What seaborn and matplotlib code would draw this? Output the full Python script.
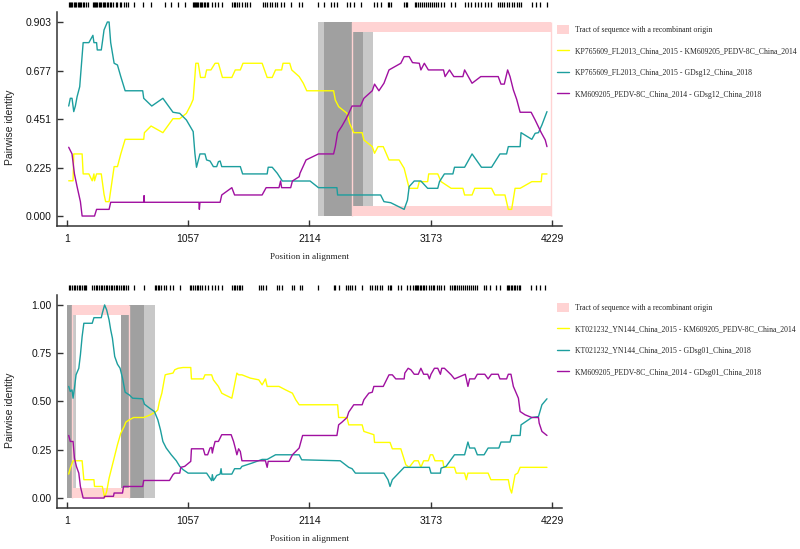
import seaborn as sns
import pandas as pd
import matplotlib.pyplot as plt
from matplotlib.patches import Rectangle, Patch
from matplotlib.lines import Line2D

# ---------------- top panel data ----------------
top_yellow_pos = [16, 54, 60, 133, 142, 192, 221, 236, 241, 259, 300, 324, 338, 368, 412, 441, 470, 508,
                  670, 676, 734, 837, 925, 984, 1042, 1080, 1101, 1116, 1124, 1145, 1165, 1204, 1218, 1256,
                  1292, 1321, 1356, 1438, 1468, 1512, 1535, 1702, 1746, 1790, 1819, 1872, 1884, 1943, 1960,
                  2025, 2061, 2091, 2325, 2340, 2369, 2442, 2465, 2501, 2574, 2589, 2662, 2682, 2712, 2758,
                  2808, 2896, 2940, 2984, 3057, 3072, 3145, 3154, 3233, 3262, 3350, 3452, 3467, 3532, 3555,
                  3702, 3731, 3819, 3848, 3877, 3907, 3951, 4053, 4135, 4141, 4185]
top_yellow_val = [0.164, 0.164, 0.289, 0.289, 0.196, 0.196, 0.164, 0.196, 0.164, 0.196, 0.196, 0.101, 0.067,
                  0.067, 0.230, 0.230, 0.289, 0.357, 0.357, 0.388, 0.419, 0.388, 0.453, 0.453, 0.478, 0.517,
                  0.543, 0.649, 0.711, 0.711, 0.645, 0.645, 0.680, 0.680, 0.711, 0.711, 0.645, 0.645, 0.680,
                  0.680, 0.711, 0.711, 0.645, 0.645, 0.680, 0.680, 0.711, 0.711, 0.680, 0.649, 0.618, 0.583,
                  0.583, 0.540, 0.509, 0.478, 0.431, 0.388, 0.388, 0.354, 0.323, 0.292, 0.323, 0.323, 0.261,
                  0.261, 0.222, 0.129, 0.129, 0.160, 0.160, 0.196, 0.196, 0.160, 0.129, 0.129, 0.098, 0.098,
                  0.129, 0.129, 0.098, 0.098, 0.031, 0.031, 0.129, 0.129, 0.160, 0.160, 0.196, 0.196]

top_teal_pos = [16, 30, 45, 60, 74, 89, 112, 142, 192, 227, 236, 259, 265, 300, 309, 324, 353, 368, 382, 412,
                441, 470, 508, 661, 670, 740, 837, 925, 984, 1042, 1101, 1116, 1130, 1160, 1204, 1218, 1248,
                1277, 1306, 1321, 1336, 1350, 1512, 1532, 1746, 1755, 1790, 1834, 1878, 2032, 2120, 2193,
                2354, 2360, 2735, 2764, 2823, 2940, 2969, 2984, 3028, 3086, 3145, 3233, 3248, 3291, 3365,
                3379, 3467, 3532, 3614, 3702, 3775, 3833, 3848, 3951, 3959, 4053, 4082, 4111, 4141, 4185]
top_teal_val = [0.512, 0.548, 0.548, 0.486, 0.512, 0.555, 0.602, 0.807, 0.807, 0.841, 0.807, 0.807, 0.773,
                0.773, 0.807, 0.866, 0.903, 0.903, 0.807, 0.711, 0.703, 0.649, 0.583, 0.583, 0.548, 0.512,
                0.548, 0.483, 0.478, 0.447, 0.393, 0.292, 0.227, 0.289, 0.289, 0.261, 0.256, 0.230, 0.230,
                0.253, 0.256, 0.230, 0.230, 0.196, 0.196, 0.227, 0.227, 0.199, 0.163, 0.163, 0.163, 0.132,
                0.132, 0.098, 0.098, 0.067, 0.062, 0.031, 0.074, 0.137, 0.163, 0.163, 0.129, 0.129, 0.160,
                0.196, 0.196, 0.227, 0.227, 0.289, 0.227, 0.227, 0.289, 0.289, 0.323, 0.323, 0.388, 0.357,
                0.385, 0.388, 0.424, 0.486]

top_purple_pos = [16, 45, 66, 89, 118, 133, 241, 259, 368, 382, 670, 673, 676, 1151, 1155, 1160, 1336, 1350,
                  1438, 1462, 1702, 1737, 1849, 1863, 1872, 1951, 1966, 2025, 2032, 2085, 2193, 2325, 2340,
                  2360, 2398, 2436, 2457, 2486, 2559, 2589, 2662, 2682, 2720, 2764, 2808, 2911, 2940, 2984,
                  3013, 3072, 3086, 3116, 3151, 3283, 3297, 3335, 3373, 3452, 3467, 3532, 3608, 3760, 3784,
                  3813, 3842, 3863, 3892, 3921, 3951, 4047, 4082, 4135, 4170, 4185]
top_purple_val = [0.320, 0.289, 0.196, 0.137, 0.067, 0.000, 0.000, 0.031, 0.031, 0.064, 0.064, 0.095, 0.064,
                  0.064, 0.031, 0.064, 0.064, 0.098, 0.132, 0.098, 0.098, 0.132, 0.132, 0.163, 0.132, 0.132,
                  0.163, 0.183, 0.199, 0.261, 0.289, 0.289, 0.323, 0.388, 0.419, 0.455, 0.478, 0.512, 0.512,
                  0.548, 0.583, 0.614, 0.583, 0.618, 0.680, 0.711, 0.742, 0.742, 0.714, 0.711, 0.680, 0.711,
                  0.680, 0.680, 0.649, 0.680, 0.649, 0.649, 0.680, 0.618, 0.649, 0.649, 0.614, 0.614, 0.680,
                  0.649, 0.587, 0.543, 0.483, 0.483, 0.447, 0.388, 0.354, 0.323]

top_rug = [16, 24, 36, 45, 60, 74, 83, 95, 104, 118, 127, 142, 153, 171, 183, 230, 236, 244, 253, 265, 277,
           288, 300, 312, 324, 335, 347, 359, 376, 388, 406, 426, 441, 459, 476, 494, 514, 529, 582, 661, 734,
           852, 910, 969, 1033, 1101, 1107, 1116, 1124, 1133, 1145, 1157, 1168, 1180, 1192, 1204, 1218, 1233,
           1262, 1292, 1321, 1350, 1438, 1453, 1468, 1482, 1497, 1526, 1550, 1570, 1599, 1708, 1725, 1746,
           1772, 1790, 1813, 1834, 1863, 1893, 1951, 2025, 2047, 2193, 2243, 2301, 2331, 2354, 2442, 2471,
           2501, 2568, 2676, 2706, 2735, 2799, 2811, 2823, 2940, 2958, 2969, 3034, 3045, 3057, 3075, 3092,
           3110, 3127, 3145, 3163, 3180, 3198, 3215, 3233, 3262, 3286, 3350, 3385, 3467, 3496, 3526, 3555,
           3584, 3614, 3643, 3672, 3696, 3760, 3772, 3789, 3813, 3833, 3854, 3877, 3901, 3921, 3942, 3959,
           4053, 4088, 4126, 4185]

top_ymax = 0.903
top_yticks = [0.0, 0.225, 0.451, 0.677, 0.903]
top_yticklabels = ["0.000", "0.225", "0.451", "0.677", "0.903"]
top_tract = (2486, 4223)
top_light = [(2193, 2670)]
top_dark = [(2243, 2580)]
top_labels = ["KP765609_FL2013_China_2015 - KM609205_PEDV-8C_China_2014",
              "KP765609_FL2013_China_2015 - GDsg12_China_2018",
              "KM609205_PEDV-8C_China_2014 - GDsg12_China_2018"]

# ---------------- bottom panel data ----------------
bot_yellow_pos = [16, 30, 54, 133, 148, 236, 241, 309, 329, 347, 368, 412, 441, 470, 500, 514, 544, 582, 670,
                  728, 778, 793, 807, 828, 846, 857, 875, 925, 940, 969, 1013, 1080, 1086, 1189, 1204, 1262,
                  1277, 1321, 1350, 1379, 1438, 1453, 1482, 1497, 1526, 1599, 1673, 1702, 1731, 1746, 1849,
                  1907, 1966, 1995, 2025, 2360, 2369, 2442, 2457, 2574, 2589, 2676, 2682, 2817, 2837, 2911,
                  2955, 2984, 3028, 3063, 3086, 3110, 3151, 3168, 3189, 3209, 3277, 3286, 3379, 3394, 3467,
                  3482, 3496, 3672, 3696, 3848, 3863, 3877, 3907, 3930, 3951, 4185]
bot_yellow_val = [0.124, 0.155, 0.193, 0.193, 0.095, 0.095, 0.060, 0.060, 0.003, 0.034, 0.103, 0.207, 0.276,
                  0.336, 0.371, 0.393, 0.405, 0.417, 0.417, 0.431, 0.448, 0.457, 0.500, 0.543, 0.603, 0.638,
                  0.641, 0.647, 0.664, 0.672, 0.676, 0.676, 0.617, 0.617, 0.638, 0.638, 0.612, 0.578, 0.543,
                  0.534, 0.517, 0.560, 0.647, 0.638, 0.638, 0.621, 0.612, 0.586, 0.617, 0.578, 0.578, 0.560,
                  0.543, 0.509, 0.483, 0.483, 0.417, 0.417, 0.379, 0.379, 0.345, 0.328, 0.288, 0.288, 0.255,
                  0.255, 0.172, 0.159, 0.193, 0.193, 0.159, 0.193, 0.193, 0.224, 0.224, 0.193, 0.193, 0.159,
                  0.159, 0.129, 0.129, 0.095, 0.129, 0.129, 0.095, 0.095, 0.048, 0.026, 0.121, 0.129, 0.159,
                  0.159]

bot_teal_pos = [16, 30, 45, 54, 66, 80, 104, 118, 133, 148, 221, 236, 300, 309, 329, 347, 368, 382, 397, 417,
                441, 464, 485, 508, 544, 573, 661, 676, 720, 763, 793, 816, 837, 866, 910, 954, 984, 1013,
                1057, 1218, 1248, 1262, 1268, 1277, 1292, 1306, 1336, 1344, 1350, 1438, 1462, 1512, 1526,
                1614, 1702, 1746, 1819, 2025, 2047, 2383, 2457, 2486, 2515, 2764, 2799, 2817, 2837, 2940,
                3160, 3174, 3256, 3262, 3306, 3379, 3467, 3496, 3511, 3555, 3578, 3637, 3672, 3766, 3784,
                3863, 3877, 3951, 3959, 4053, 4111, 4141, 4185]
bot_teal_val = [0.578, 0.552, 0.560, 0.517, 0.569, 0.638, 0.672, 0.741, 0.836, 0.905, 0.905, 0.934, 0.934,
                0.957, 1.000, 0.974, 0.922, 0.871, 0.828, 0.733, 0.693, 0.672, 0.621, 0.548, 0.534, 0.517,
                0.514, 0.486, 0.466, 0.448, 0.405, 0.353, 0.293, 0.259, 0.224, 0.193, 0.164, 0.147, 0.129,
                0.129, 0.103, 0.090, 0.121, 0.091, 0.103, 0.117, 0.124, 0.152, 0.124, 0.124, 0.152, 0.152,
                0.164, 0.181, 0.200, 0.200, 0.224, 0.224, 0.198, 0.193, 0.159, 0.152, 0.129, 0.129, 0.095,
                0.060, 0.095, 0.159, 0.159, 0.129, 0.129, 0.155, 0.164, 0.224, 0.224, 0.290, 0.259, 0.259,
                0.224, 0.224, 0.259, 0.259, 0.290, 0.290, 0.324, 0.324, 0.379, 0.417, 0.422, 0.483, 0.514]

bot_purple_pos = [16, 30, 54, 66, 83, 104, 118, 142, 324, 329, 406, 412, 485, 494, 661, 670, 895, 925, 940,
                  984, 993, 1027, 1080, 1086, 1189, 1204, 1227, 1248, 1262, 1268, 1277, 1292, 1321, 1350,
                  1432, 1453, 1468, 1482, 1497, 1512, 1526, 1731, 1746, 1755, 1937, 1966, 2025, 2055, 2354,
                  2369, 2398, 2442, 2457, 2501, 2574, 2589, 2632, 2662, 2676, 2758, 2808, 2837, 2867, 2940,
                  2946, 2975, 2999, 3028, 3063, 3086, 3110, 3145, 3160, 3174, 3204, 3233, 3256, 3268, 3291,
                  3350, 3379, 3473, 3482, 3496, 3511, 3555, 3578, 3643, 3672, 3701, 3760, 3775, 3833, 3848,
                  3871, 3892, 3936, 3951, 3994, 4053, 4111, 4117, 4141, 4185]
bot_purple_val = [0.324, 0.293, 0.293, 0.207, 0.164, 0.129, 0.060, 0.000, 0.000, 0.009, 0.009, 0.026, 0.026,
                  0.060, 0.060, 0.091, 0.091, 0.121, 0.129, 0.129, 0.159, 0.164, 0.190, 0.255, 0.255, 0.224,
                  0.224, 0.259, 0.262, 0.233, 0.259, 0.293, 0.293, 0.328, 0.328, 0.293, 0.259, 0.224, 0.255,
                  0.241, 0.193, 0.193, 0.159, 0.190, 0.190, 0.224, 0.259, 0.324, 0.324, 0.379, 0.393, 0.417,
                  0.445, 0.483, 0.483, 0.509, 0.543, 0.548, 0.578, 0.578, 0.638, 0.638, 0.617, 0.617, 0.647,
                  0.672, 0.664, 0.641, 0.641, 0.672, 0.641, 0.641, 0.617, 0.641, 0.672, 0.672, 0.641, 0.672,
                  0.672, 0.638, 0.617, 0.641, 0.617, 0.578, 0.617, 0.617, 0.641, 0.641, 0.617, 0.641, 0.641,
                  0.617, 0.617, 0.641, 0.641, 0.578, 0.517, 0.448, 0.431, 0.417, 0.417, 0.388, 0.345, 0.324]

bot_rug = [16, 30, 45, 60, 74, 89, 104, 118, 133, 148, 162, 171, 221, 236, 250, 265, 280, 294, 309, 324, 338,
           353, 368, 382, 397, 412, 426, 441, 456, 470, 485, 500, 514, 529, 582, 670, 769, 781, 793, 807, 822,
           846, 866, 895, 925, 984, 1072, 1086, 1101, 1116, 1130, 1145, 1160, 1174, 1204, 1233, 1262, 1292,
           1321, 1350, 1438, 1453, 1468, 1482, 1497, 1512, 1526, 1673, 1688, 1708, 1737, 1834, 1849, 1872,
           1966, 1984, 2032, 2047, 2193, 2325, 2340, 2369, 2436, 2448, 2471, 2486, 2515, 2574, 2641, 2662,
           2682, 2706, 2729, 2750, 2799, 2817, 2829, 2887, 2911, 2969, 2993, 3013, 3034, 3042, 3051, 3063,
           3075, 3086, 3101, 3116, 3130, 3160, 3174, 3189, 3204, 3227, 3248, 3262, 3291, 3344, 3356, 3373,
           3385, 3403, 3414, 3432, 3450, 3467, 3485, 3502, 3520, 3540, 3555, 3578, 3637, 3657, 3687, 3745,
           3775, 3833, 3842, 3854, 3871, 3883, 3895, 3907, 3921, 3942, 3954, 4047, 4088, 4126, 4164]

bot_ymax = 1.0
bot_yticks = [0.0, 0.25, 0.5, 0.75, 1.0]
bot_yticklabels = ["0.00", "0.25", "0.50", "0.75", "1.00"]
bot_tract = (45, 544)
bot_light = [(1, 83), (470, 769)]
bot_dark = [(1, 45), (470, 670)]
bot_labels = ["KT021232_YN144_China_2015 - KM609205_PEDV-8C_China_2014",
              "KT021232_YN144_China_2015 - GDsg01_China_2018",
              "KM609205_PEDV-8C_China_2014 - GDsg01_China_2018"]

xticks = [1, 1057, 2114, 3173, 4229]
colors = ["#ffff00", "#1c9e9e", "#a010a0"]
pink = "#ffd3d3"
light_gray = "#c8c8c8"
dark_gray = "#a0a0a0"

sns.set_style("ticks")
plt.rcParams["font.family"] = ["Liberation Sans", "DejaVu Sans"]
serif = ["Liberation Serif", "DejaVu Serif"]


def draw_panel(ax, series, labels, ymax, yticks, yticklabels, tract, light, dark, rug, leg_y):
    # breakpoint confidence intervals
    for a, b in light:
        ax.add_patch(Rectangle((a, 0), b - a, ymax, color=light_gray, lw=0, zorder=1))
    for a, b in dark:
        ax.add_patch(Rectangle((a, 0), b - a, ymax, color=dark_gray, lw=0, zorder=1.1))
    # recombinant tract frame
    band = 0.052 * ymax
    t0, t1 = tract
    ax.add_patch(Rectangle((t0, ymax - band), t1 - t0, band, color=pink, lw=0, zorder=2))
    ax.add_patch(Rectangle((t0, 0), t1 - t0, band, color=pink, lw=0, zorder=2))
    ax.vlines([t0, t1], 0, ymax, color=pink, lw=1.0, zorder=2)

    for (pos, val), col in zip(series, colors):
        df = pd.DataFrame({"pos": pos, "val": val})
        sns.lineplot(data=df, x="pos", y="val", ax=ax, color=col, lw=1.0,
                     estimator=None, sort=False, zorder=3)

    # informative sites rug above the plot
    ax.vlines(rug, 1.022, 1.045, transform=ax.get_xaxis_transform(), color="black",
              lw=0.9, clip_on=False)

    ax.set_xlim(-86, 4316)
    ax.set_ylim(-0.0515 * ymax, 1.0515 * ymax)
    ax.set_xticks(xticks)
    ax.set_xticklabels([str(t) for t in xticks])
    ax.set_yticks(yticks)
    ax.set_yticklabels(yticklabels)
    ax.tick_params(direction="in", length=4, width=1, color="#333333", labelsize=7.5,
                   labelcolor="#111111")
    ax.tick_params(axis="x", pad=6)
    ax.tick_params(axis="y", pad=4)
    sns.despine(ax=ax)
    for s in ["left", "bottom"]:
        ax.spines[s].set_color("#333333")
        ax.spines[s].set_linewidth(1.1)

    ax.set_ylabel("Pairwise identity", fontsize=7.5, color="#222222")
    ax.yaxis.set_label_coords(-0.083, 0.46)
    ax.set_xlabel("Position in alignment", fontsize=6.6, color="#222222", family=serif)
    ax.xaxis.set_label_coords(0.5, -0.125)

    handles = [Patch(facecolor=pink, edgecolor="none")] + \
              [Line2D([], [], color=c, lw=1.0) for c in colors]
    names = ["Tract of sequence with a recombinant origin"] + labels
    fig.legend(handles, names, loc="upper left", bbox_to_anchor=(0.696, leg_y), frameon=False,
               prop={"family": serif, "size": 5.6}, handlelength=1.6, handleheight=1.4,
               handletextpad=0.8, labelspacing=1.6, borderaxespad=0, borderpad=0)


fig = plt.figure(figsize=(8, 5.49), dpi=100)
ax_top = fig.add_axes([0.07125, 0.5883, 0.63125, 0.3898])
ax_bot = fig.add_axes([0.07125, 0.0747, 0.63125, 0.388])

draw_panel(ax_top,
           [(top_yellow_pos, top_yellow_val), (top_teal_pos, top_teal_val), (top_purple_pos, top_purple_val)],
           top_labels, top_ymax, top_yticks, top_yticklabels, top_tract, top_light, top_dark, top_rug,
           1 - 25 / 549)
draw_panel(ax_bot,
           [(bot_yellow_pos, bot_yellow_val), (bot_teal_pos, bot_teal_val), (bot_purple_pos, bot_purple_val)],
           bot_labels, bot_ymax, bot_yticks, bot_yticklabels, bot_tract, bot_light, bot_dark, bot_rug,
           1 - 303 / 549)

fig.savefig("out.png", dpi=100)
